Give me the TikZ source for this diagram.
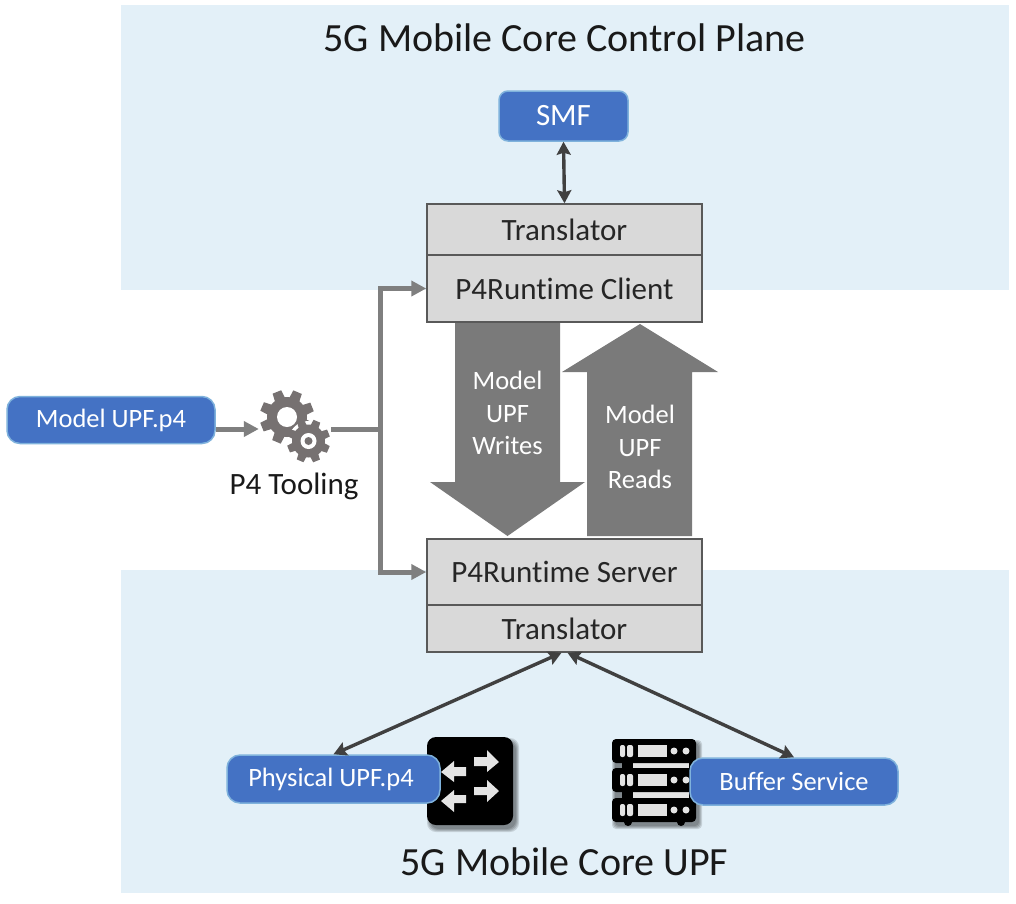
\documentclass[tikz,border=0pt]{standalone}
\usepackage{fontspec}
\setmainfont[Ligatures=NoCommon]{Carlito}
\usetikzlibrary{arrows.meta,calc}
\definecolor{regionbg}{HTML}{E3F0F8}
\definecolor{bluefill}{HTML}{4472C4}
\definecolor{blueedge}{HTML}{7FB2DC}
\definecolor{boxfill}{HTML}{D9D9D9}
\definecolor{boxedge}{HTML}{595959}
\definecolor{bigarrow}{HTML}{7A7A7A}
\definecolor{darkline}{HTML}{404040}
\definecolor{toolline}{HTML}{7F7F7F}
\definecolor{geargray}{HTML}{767171}
\definecolor{iconlight}{HTML}{E4E4E4}
\newcommand{\fs}[1]{\fontsize{#1}{#1}\selectfont}
\newcommand{\lowered}[2]{\raisebox{-#1pt}{#2}}
\newcommand{\gearicon}[3]{% x y router
  \foreach \a in {0,45,...,315}{
    \fill[geargray,rotate around={\a+22:(#1,#2)}] (#1-0.26*#3,#2) -- (#1-0.17*#3,#2-#3) -- (#1+0.17*#3,#2-#3) -- (#1+0.26*#3,#2) -- cycle;
  }
}
\newcommand{\softshadow}[5]{% x1 y1 x2 y2 radius
  \foreach \e in {0,1,2,3}{
    \fill[black,opacity=.13,rounded corners=#5pt] (#1+3-\e,#2+4-\e) rectangle (#3+3+\e,#4+4+\e);
  }
}
\tikzset{
  x=1pt,y=-1pt,
  region/.style={fill=regionbg,draw=none},
  bluebox/.style={draw=blueedge,line width=1.5pt,fill=bluefill,rounded corners=13pt,text=white,inner sep=0pt,minimum height=47pt,font=\fs{26.5}},
  greybox/.style={draw=boxedge,line width=1.5pt,fill=boxfill,inner sep=0pt,minimum width=275pt,font=\fs{31},text=black!85},
  biglabel/.style={text=white,align=center,font=\fontsize{26.5}{32.5}\selectfont},
  title/.style={text=black!90,font=\fs{40}},
  dark/.style={draw=darkline,line width=3.4pt,{Stealth[length=13pt,width=14pt,inset=2pt]}-{Stealth[length=13pt,width=14pt,inset=2pt]}},
  tool/.style={draw=toolline,line width=5pt},
  toolarrow/.style={tool,-{Triangle[length=15pt,width=15pt]}},
}
\begin{document}
\begin{tikzpicture}
\useasboundingbox (0,0) rectangle (1016,903);
\fill[white] (0,0) rectangle (1016,903);
% regions
\path[region] (121,5) rectangle (1009,290);
\path[region] (121,570) rectangle (1009,893);
\node[title] (toptitle) at (564.5,38) {5G Mobile Core Control Plane};
\node[title] (bottomtitle) at (564.5,862) {5G Mobile Core UPF};
% grey boxes
\node[greybox,minimum height=51pt] (ctrans) at (564.5,229.5) {\lowered{3}{Translator}};
\node[greybox,minimum height=67pt] (client) at (564.5,288.5) {\lowered{3}{P4Runtime Client}};
\node[greybox,minimum height=66pt] (server) at (564.5,572) {\lowered{2}{P4Runtime Server}};
\node[greybox,minimum height=47pt] (strans) at (564.5,628.5) {\lowered{1}{Translator}};
% SMF
\node[bluebox,minimum width=129pt,minimum height=50pt,rounded corners=9pt,font=\fs{31}] (smf) at (563.5,116) {\lowered{4}{SMF}};
% big arrows
\fill[bigarrow] (455,323) -- (560,323) -- (560,482) -- (585,482) -- (507.5,536) -- (430,482) -- (455,482) -- cycle;
\fill[bigarrow] (587,536) -- (692,536) -- (692,372) -- (718,372) -- (640,324) -- (562,372) -- (587,372) -- cycle;
\node[biglabel] (writes) at (507.5,413) {Model\\UPF\\Writes};
\node[biglabel] (reads) at (640,447) {Model\\UPF\\Reads};
% switch icon
\softshadow{427}{737}{513}{825}{9}
\fill[black,rounded corners=9pt] (427,737) rectangle (513,825);
\fill[iconlight] (474,757) -- (487,757) -- (487,750) -- (499,762) -- (487,772) -- (487,766) -- (474,766) -- cycle;
\fill[iconlight] (474,787) -- (487,787) -- (487,780) -- (499,791) -- (487,802) -- (487,795) -- (474,795) -- cycle;
\fill[iconlight] (466,767) -- (454,767) -- (454,761) -- (441,772) -- (454,782) -- (454,776) -- (466,776) -- cycle;
\fill[iconlight] (466,795) -- (454,795) -- (454,790) -- (441,801) -- (454,812) -- (454,803) -- (466,803) -- cycle;
% server icon
\softshadow{612}{739}{696}{822}{4}
\fill[iconlight] (633,763) rectangle (689,768);
\fill[iconlight] (633,792) rectangle (689,798);
\fill[black] (622,760) rectangle (633,800);
\fill[black] (689,760) rectangle (696,800);
\foreach \yy in {739,768,798}{
  \fill[black,rounded corners=4pt] (612,\yy) rectangle (696,\yy+24);
  \fill[iconlight,rounded corners=2pt] (620,\yy+6) rectangle (625,\yy+18);
  \fill[iconlight,rounded corners=2pt] (627,\yy+6) rectangle (633,\yy+18);
  \fill[iconlight] (638,\yy+6) rectangle (667,\yy+18);
  \fill[iconlight] (674,\yy+12) circle (3.5pt);
  \fill[iconlight] (686,\yy+12) circle (3.5pt);
}
\fill[black] (628,822) circle (4pt);
\fill[black] (681,822) circle (4pt);
% blue boxes
\node[bluebox,minimum width=208pt] (model) at (111,420) {\lowered{4}{Model UPF.p4}};
\node[bluebox,minimum width=213pt,minimum height=48pt] (phys) at (333.5,779) {\hspace*{-5pt}\lowered{4}{Physical UPF.p4}};
\node[bluebox,minimum width=208pt,minimum height=47pt] (buffer) at (794,781.5) {Buffer Service};
% gear
\node[minimum width=72pt,minimum height=72pt,inner sep=0pt] (gears) at (295,429) {};
\gearicon{287}{417}{27}
\fill[geargray] (287,417) circle (20pt);
\fill[white] (287,417) circle (10pt);
\fill[white] (308.5,441) circle (20pt);
\gearicon{308.5}{441}{21.5}
\fill[geargray] (308.5,441) circle (16.5pt);
\fill[white] (308.5,441) circle (8pt);
\fill[geargray] (308.5,441) circle (4pt);
\node[font=\fs{31},text=black!90] (tooling) at (294,486) {P4 Tooling};
% connectors
\coordinate (junction) at (380,429);
\draw[dark] (smf.south) -- (ctrans.north);
\draw[dark] ([xshift=-3pt]strans.south) -- (phys.north);
\draw[dark] ([xshift=3pt]strans.south) -- (buffer.north);
\draw[toolarrow] (model.east |- gears.west) -- (gears.west);
\draw[tool] (gears.east) -- (junction);
\draw[toolarrow] (junction) |- (client.west);
\draw[toolarrow] (junction) |- (server.west);
\end{tikzpicture}
\end{document}
